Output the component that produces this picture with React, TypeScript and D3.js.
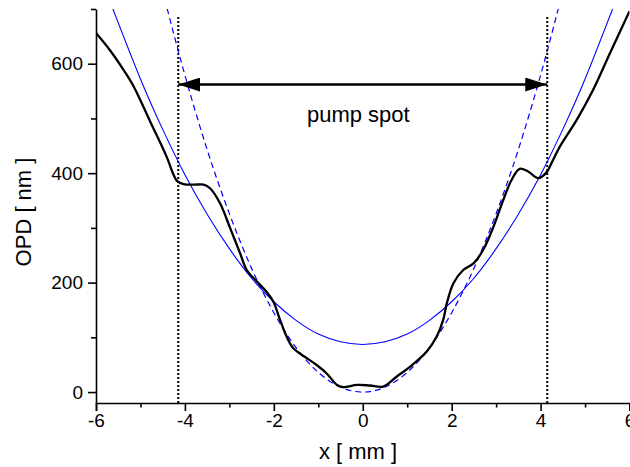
import React, { useEffect, useRef } from "react";
import * as d3 from "d3";

const width = 630;
const height = 467;
const margin = { left: 96, right: 0.5, top: 9, bottom: 64 };

// measured OPD profile (black)
const profileX = [-6, -5.69, -5.4, -5.15, -4.78, -4.55, -4.4, -4.26, -4.18, -4.03, -3.8, -3.58, -3.43, -3.21, -2.98, -2.76, -2.61, -2.38, -2.16, -2.01, -1.86, -1.71, -1.56, -1.26, -1.03, -0.81, -0.58, -0.44, -0.13, 0.16, 0.46, 0.76, 1.06, 1.44, 1.66, 1.81, 1.89, 2.04, 2.26, 2.49, 2.71, 2.94, 3.16, 3.35, 3.53, 3.72, 3.95, 4.13, 4.25, 4.43, 4.81, 5.18, 5.56, 6];
const profileY = [656, 625, 591, 558, 494, 455, 428, 398, 386, 380, 379, 379, 372, 345, 299, 254, 223, 202, 183, 165, 132, 101, 80, 62, 49, 34, 13, 9, 13, 12, 10, 28, 46, 74, 101, 132, 162, 199, 223, 235, 260, 302, 351, 388, 408, 403, 391, 401, 419, 448, 497, 552, 619, 696];

// wide parabolic fit (blue solid)
const fitWideX = [-5.62, -5, -4.5, -4, -3.5, -3, -2.5, -2, -1.5, -1, -0.5, 0, 0.5, 1, 1.5, 2, 2.5, 3, 3.5, 4, 4.5, 5, 5.62];
const fitWideY = [700, 572, 480, 397, 325, 262, 208, 165, 131, 106, 92, 87, 92, 106, 131, 165, 208, 262, 325, 397, 480, 572, 700];

// narrow parabolic fit (blue dashed)
const fitNarrowX = [-4.4, -4, -3.5, -3, -2.5, -2, -1.5, -1, -0.5, 0, 0.5, 1, 1.5, 2, 2.5, 3, 3.5, 4, 4.4];
const fitNarrowY = [701, 579, 443, 326, 226, 145, 81, 36, 9, 0, 9, 36, 81, 145, 226, 326, 443, 579, 701];

const spotEdges = [-4.15, 4.15];
const arrowLevel = 562;
const xMajor = [-6, -4, -2, 0, 2, 4, 6];
const xMinor = [-5, -3, -1, 1, 3, 5];
const yMajor = [0, 200, 400, 600];
const yMinor = [100, 300, 500, 700];

const App = () => {
  const ref = useRef<SVGSVGElement>(null);

  useEffect(() => {
    const svg = d3.select(ref.current);
    svg.selectAll("*").remove();

    const x = d3.scaleLinear().domain([-6, 6]).range([margin.left, width - margin.right]);
    const y = d3.scaleLinear().domain([-20, 700]).range([height - margin.bottom, margin.top]);

    const defs = svg.append("defs");
    defs.append("clipPath").attr("id", "plotclip")
      .append("rect")
      .attr("x", margin.left).attr("y", margin.top)
      .attr("width", width - margin.left - margin.right)
      .attr("height", height - margin.top - margin.bottom);

    defs.append("marker")
      .attr("id", "ahead")
      .attr("viewBox", "0 0 22 14")
      .attr("refX", 22).attr("refY", 7)
      .attr("markerWidth", 22).attr("markerHeight", 14)
      .attr("markerUnits", "userSpaceOnUse")
      .attr("orient", "auto-start-reverse")
      .append("path").attr("d", "M0,0 L22,7 L0,14 Z").attr("fill", "#000");

    const plot = svg.append("g").attr("clip-path", "url(#plotclip)");

    const line = d3.line<[number, number]>()
      .x(d => x(d[0])).y(d => y(d[1]))
      .curve(d3.curveCatmullRom.alpha(0.5));
    const smooth = d3.line<[number, number]>()
      .x(d => x(d[0])).y(d => y(d[1]))
      .curve(d3.curveNatural);

    // dotted spot edges
    plot.selectAll(".edge")
      .data(spotEdges)
      .join("line")
      .attr("x1", d => x(d)).attr("x2", d => x(d))
      .attr("y1", y(-20)).attr("y2", y(686))
      .attr("stroke", "#000")
      .attr("stroke-width", 2)
      .attr("stroke-dasharray", "2,2");

    plot.append("path")
      .datum(fitWideX.map((v, i) => [v, fitWideY[i]] as [number, number]))
      .attr("d", smooth)
      .attr("fill", "none").attr("stroke", "#0000ff").attr("stroke-width", 1.1);

    plot.append("path")
      .datum(fitNarrowX.map((v, i) => [v, fitNarrowY[i]] as [number, number]))
      .attr("d", smooth)
      .attr("fill", "none").attr("stroke", "#0000ff").attr("stroke-width", 1.2)
      .attr("stroke-dasharray", "6,4");

    plot.append("path")
      .datum(profileX.map((v, i) => [v, profileY[i]] as [number, number]))
      .attr("d", line)
      .attr("fill", "none").attr("stroke", "#000").attr("stroke-width", 2.3)
      .attr("stroke-linejoin", "round");

    // arrow
    svg.append("line")
      .attr("x1", x(spotEdges[0])).attr("x2", x(spotEdges[1]))
      .attr("y1", y(arrowLevel)).attr("y2", y(arrowLevel))
      .attr("stroke", "#000").attr("stroke-width", 2.5)
      .attr("marker-start", "url(#ahead)")
      .attr("marker-end", "url(#ahead)");

    svg.append("text")
      .attr("x", x(-0.1)).attr("y", 122)
      .attr("text-anchor", "middle")
      .attr("font-size", 22)
      .text("pump spot");

    const font = "'Liberation Sans', Arial, sans-serif";

    // x axis
    const xg = svg.append("g").attr("transform", `translate(0,${y(-20)})`);
    xg.call(d3.axisBottom(x).tickValues(xMajor).tickSize(8).tickPadding(3).tickFormat(d => String(d)));
    xg.append("g").call(d3.axisBottom(x).tickValues(xMinor).tickSize(4.5).tickFormat(() => ""))
      .call(g => g.select(".domain").remove());
    xg.selectAll("text").attr("font-size", 19).attr("font-family", font).attr("fill", "#000");
    xg.selectAll("line, path").attr("stroke-width", 1.6).attr("stroke", "#000");

    // y axis
    const yg = svg.append("g").attr("transform", `translate(${margin.left},0)`);
    yg.call(d3.axisLeft(y).tickValues(yMajor).tickSize(8).tickPadding(5).tickSizeOuter(0).tickFormat(d => String(d)));
    yg.append("g").call(d3.axisLeft(y).tickValues(yMinor).tickSize(5).tickFormat(() => ""))
      .call(g => g.select(".domain").remove());
    yg.selectAll("text").attr("font-size", 19).attr("font-family", font).attr("fill", "#000");
    yg.selectAll("line, path").attr("stroke-width", 1.6).attr("stroke", "#000");

    svg.append("text")
      .attr("x", (margin.left + width) / 2 - 5).attr("y", 459)
      .attr("text-anchor", "middle")
      .attr("font-size", 22)
      .text("x [ mm ]");

    svg.append("text")
      .attr("transform", `translate(31,${212}) rotate(-90)`)
      .attr("text-anchor", "middle")
      .attr("font-size", 22)
      .text("OPD [ nm ]");
  }, []);

  return (
    <div style={{ position: "fixed", left: 0, top: 0 }}>
      <svg
        ref={ref}
        width={width}
        height={height}
        style={{ display: "block", background: "#fff", fontFamily: "'Liberation Sans', Arial, sans-serif" }}
      />
    </div>
  );
};

export default App;
